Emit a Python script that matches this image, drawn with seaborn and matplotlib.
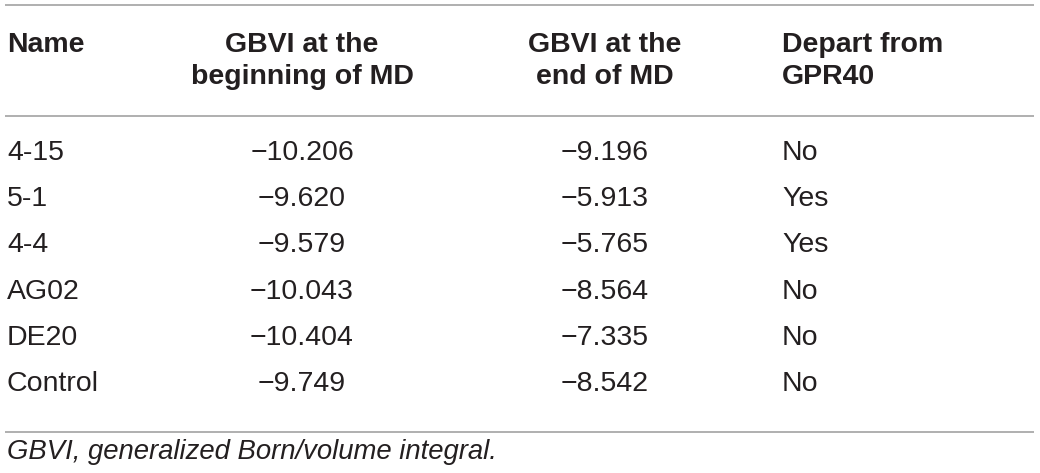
import matplotlib
matplotlib.use("Agg")
import matplotlib.pyplot as plt
import seaborn as sns
import pandas as pd

names = ["4-15", "5-1", "4-4", "AG02", "DE20", "Control"]
gbvi_begin = [-10.206, -9.620, -9.579, -10.043, -10.404, -9.749]
gbvi_end = [-9.196, -5.913, -5.765, -8.564, -7.335, -8.542]
departs = ["No", "Yes", "Yes", "No", "No", "No"]
headers = ["Name\n ", "GBVI at the\nbeginning of MD", "GBVI at the\nend of MD", "Depart from\nGPR40"]
footnote = "GBVI, generalized Born/volume integral."

df = pd.DataFrame({"name": names, "begin": gbvi_begin, "end": gbvi_end, "depart": departs})

sns.set_theme(style="white")
plt.rcParams["font.family"] = ["Liberation Sans", "DejaVu Sans"]

W, H = 1040, 473
fig = plt.figure(figsize=(W / 100, H / 100), dpi=100)
ax = fig.add_axes([0, 0, 1, 1])
ax.set_xlim(0, W)
ax.set_ylim(H, 0)
ax.axis("off")

ink = "#231f20"
rule = "#9a9a9a"
fs = 20.5

# column anchors (x, alignment)
cols = [(7, "left"), (302, "center"), (605, "center"), (782, "left")]

# header block, two lines per cell
for (x, ha), h in zip(cols, headers):
    ax.text(x, 61, h, ha=ha, va="center", fontsize=fs,
            fontweight="bold", color=ink, linespacing=1.33)

def fmt(v):
    return f"{v:.3f}".replace("-", "\u2212")

row_y0, row_dy = 153, 46.2
for i, r in df.iterrows():
    y = row_y0 + i * row_dy
    vals = [r["name"], fmt(r["begin"]), fmt(r["end"]), r["depart"]]
    for (x, ha), v in zip(cols, vals):
        ax.text(x, y, v, ha=ha, va="center", fontsize=fs, color=ink)

for y in [5, 116, 432]:
    ax.plot([5, 1034], [y, y], color=rule, lw=1.1, solid_capstyle="butt")

ax.text(7, 452, footnote, ha="left", va="center", fontsize=19.8, style="italic", color=ink)

fig.savefig("out.png", dpi=100)
